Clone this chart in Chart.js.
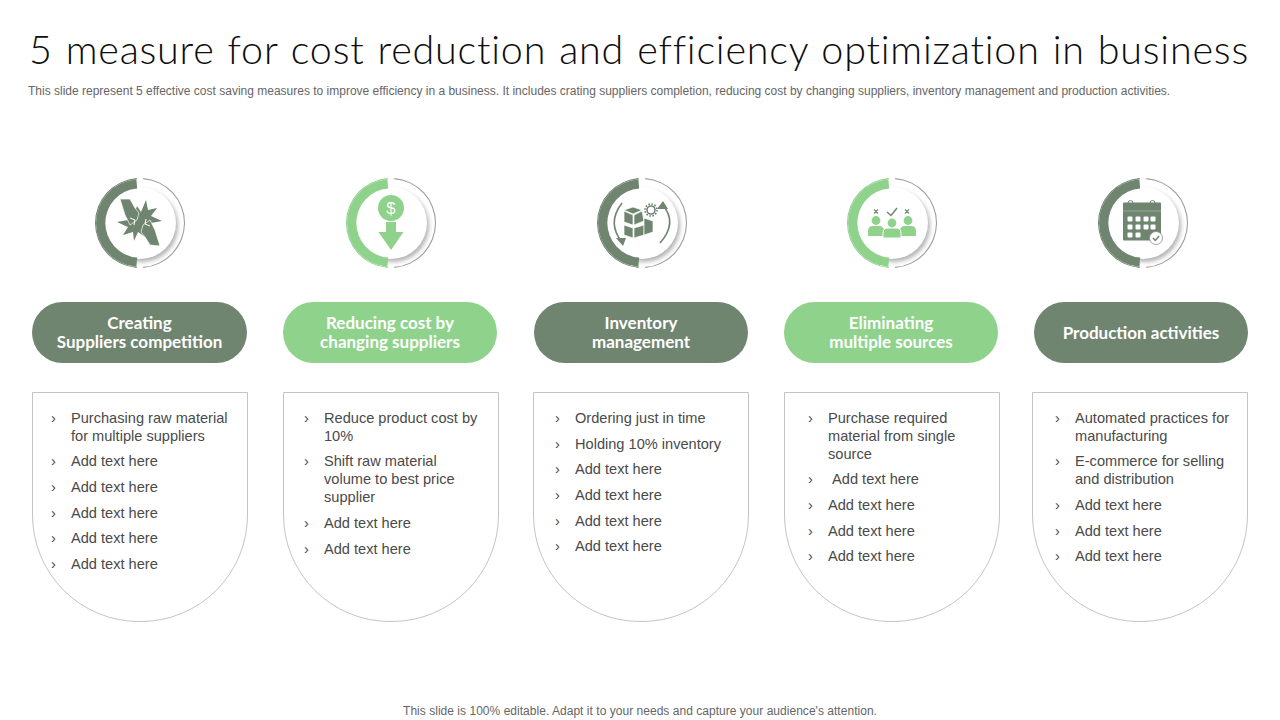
<!DOCTYPE html>
<html>
<head>
<meta charset="utf-8">
<title>Cost reduction measures</title>
<script src="https://cdn.jsdelivr.net/npm/chart.js@4"></script>
<style>
  html, body { margin: 0; padding: 0; background: #fff; }
  #slide { position: relative; width: 1280px; height: 720px; overflow: hidden; font-family: "Liberation Sans", Arial, sans-serif; }
  #title { position: absolute; left: 29px; top: 25px; white-space: nowrap; font: 300 39.5px Lato, sans-serif; color: #0d0d0d; letter-spacing: .78px; word-spacing: 1.5px; }
  #subtitle { position: absolute; left: 28px; top: 84px; white-space: nowrap; font-size: 12px; color: #666; }
  #footer { position: absolute; left: 0; width: 1280px; top: 704px; text-align: center; font-size: 12px; color: #666; letter-spacing: .03px; }
  .disc { position: absolute; width: 72px; height: 72px; border-radius: 50%; background: #fff; box-shadow: 2px 3px 4px rgba(0,0,0,.3); }
  .ring { position: absolute; width: 100px; height: 100px; }
  .icon { position: absolute; width: 90px; height: 90px; overflow: visible; }
  .pill { position: absolute; top: 302px; height: 61px; box-sizing: border-box; border-radius: 31px; display: flex; align-items: center; justify-content: center; text-align: center; color: #fff; font: 700 17px/19px Lato, sans-serif; white-space: pre-line; }
  .card { position: absolute; top: 392px; width: 214px; height: 228px; border: 1px solid #c4c4c4; border-radius: 0 0 107px 107px / 0 0 107px 107px; box-sizing: content-box; }
  .card ul { list-style: none; margin: 0; padding: 0; color: #4a4a4a; font-size: 14.6px; line-height: 18px; }
  .card li { position: relative; margin-bottom: 7.6px; white-space: pre-wrap; }
  .card li::before { content: "\203A"; position: absolute; margin-left: -20px; }
</style>
</head>
<body>
<div id="slide">
  <div id="title">5 measure for cost reduction and efficiency optimization in business</div>
  <div id="subtitle">This slide represent 5 effective cost saving measures to improve efficiency in a business. It includes crating suppliers completion, reducing cost by changing suppliers, inventory management and production activities.</div>
  <div id="footer">This slide is 100% editable. Adapt it to your needs and capture your audience's attention.</div>
</div>

<script>
// Данные
const categories = ['Creating\nSuppliers competition', 'Reducing cost by\nchanging suppliers', 'Inventory\nmanagement', 'Eliminating\nmultiple sources', 'Production activities'];
const ringShares = [50, 50];
const bullets1 = ['Purchasing raw material\nfor multiple suppliers', 'Add text here', 'Add text here', 'Add text here', 'Add text here', 'Add text here'];
const bullets2 = ['Reduce product cost by\n10%', 'Shift raw material\nvolume to best price\nsupplier', 'Add text here', 'Add text here'];
const bullets3 = ['Ordering just in time', 'Holding 10% inventory', 'Add text here', 'Add text here', 'Add text here', 'Add text here'];
const bullets4 = ['Purchase required\nmaterial from single\nsource', ' Add text here', 'Add text here', 'Add text here', 'Add text here'];
const bullets5 = ['Automated practices for\nmanufacturing', 'E-commerce for selling\nand distribution', 'Add text here', 'Add text here', 'Add text here'];
const bulletLists = [bullets1, bullets2, bullets3, bullets4, bullets5];

// Раскладка
const DARK = '#6f8570';
const GREEN = '#8fd28c';
const colors = [DARK, GREEN, DARK, GREEN, DARK];
const ringX = [140, 390.5, 641.5, 891.5, 1142.5];
const ringY = 223;
const pillLeft = [32, 283, 534, 784, 1034];
const pillWidth = [215, 214, 214, 214, 214];
const cardLeft = [32, 283, 533, 784, 1032];
const textInset = [38, 40, 41, 43, 42];
const textTop = [15.85, 15.85, 16.2, 15.85, 15.85];

// Иконки, координаты от центра кольца
const icons = [
  `<polygon fill="${DARK}" points="6,-23 8,-13 17,-15 11,-7 22,-2 11,0 15,9 5,6 5,14 -2,9 -6,18 -7,9 -17,12 -12,4 -23,-1 -12,-3 -14,-11 -6,-8 -3,-17 1,-11"/>
   <polygon fill="${DARK}" stroke="#fff" stroke-width=".7" points="-20,-24 -10,-24 -5,-15 -1,-10 -3,-3 -10,2 -15,-8"/>
   <polygon fill="${DARK}" stroke="#fff" stroke-width=".7" points="20,23 10,22 5,14 1,9 3,2 10,-3 15,7"/>
   <path d="M-10,-5 l5,2 l-1,5 M10,3 l-5,-2 l1,-5" fill="none" stroke="#fff" stroke-width="1"/>`,
  `<circle cx="0" cy="-15" r="13" fill="${GREEN}"/>
   <text x="0" y="-9" text-anchor="middle" font-family="Liberation Sans" font-size="17" fill="#fff">$</text>
   <polygon fill="${GREEN}" points="-5,-1 5,-1 5,9 12.5,9 0,27 -12.5,9 -5,9"/>`,
  `<g fill="none" stroke="${DARK}" stroke-width="1.6"><path d="M-20,-20 Q-35.500,0 -20,19"/><path d="M18,20 Q36,0 20.700,-18"/><circle cx="9" cy="-13" r="4"/><circle cx="9" cy="-13" r="6" stroke-dasharray="1.6 1.5" stroke-width="1.6"/></g>
   <polygon fill="${DARK}" points="-19,23 -26,15 -16,15"/><polygon fill="${DARK}" points="21,-22 15,-14 26,-14"/>
   <g fill="${DARK}" stroke="#fff" stroke-width=".7">
    <polygon points="-18,-13 -9,-16 0,-13 -9,-9"/><polygon points="-18,-12 -9,-8 -9,2 -18,-1"/><polygon points="-8,-8 0,-12 2,-2 -8,2"/>
    <polygon points="-18,2 -9,5 -9,15 -18,12"/><polygon points="-8,5 2,2 2,12 -8,15"/>
    <polygon points="2,-5 11,-2 11,9 2,12"/>
   </g>`,
  `<g fill="${GREEN}">
    <circle cx="-16" cy="-2.5" r="4.4"/><path d="M-24,13 v-5 q0,-5 5,-5 h6 q5,0 5,5 v5 z"/>
    <circle cx="16" cy="-2.5" r="4.4"/><path d="M8,13 v-5 q0,-5 5,-5 h6 q5,0 5,5 v5 z"/>
    <path d="M-9,15 v-5 q0,-5 5,-5 h8 q5,0 5,5 v5 z" stroke="#fff" stroke-width="1"/>
    <circle cx="0" cy="0" r="4.4"/>
   </g>
   <g fill="none" stroke="${DARK}" stroke-width="1.1"><path d="M-18,-13.5 l4,4 M-14,-13.5 l-4,4 M13,-13.5 l4,4 M17,-13.5 l-4,4"/></g>
   <path d="M-5,-11 l4,3.500 l6,-7.500" fill="none" stroke="${DARK}" stroke-width="1.5"/>`,
  `<rect x="-20" y="-20.500" width="38" height="38" rx="1" fill="${DARK}"/>
   <rect x="-20" y="-12.500" width="38" height="1" fill="#fff" opacity=".3"/>
   <g fill="none" stroke="${DARK}" stroke-width="1"><circle cx="-12.500" cy="-20" r="2.500"/><circle cx="9.500" cy="-20" r="2.500"/></g>
   ${[[-13,-4],[-5,-4],[3,-4],[10,-4],[-13,4],[-5,4],[3,4],[10,4],[-13,12],[-5,12]].map(c => `<rect x="${c[0]-2.500}" y="${c[1]-2.500}" width="5" height="5" rx="1" fill="#fff"/>`).join('')}
   <circle cx="13" cy="15" r="6.500" fill="#fff" stroke="#8a8a8a" stroke-width=".8"/>
   <path d="M10,15 l2.200,2.400 l4,-4.500" fill="none" stroke="${DARK}" stroke-width="1.500"/>`
];

const slide = document.getElementById('slide');

function addEl(cls, tag) {
  const el = document.createElement(tag || 'div');
  el.className = cls;
  slide.appendChild(el);
  return el;
}

categories.forEach((name, i) => {
  const cx = ringX[i];

  // Белый диск с тенью под кольцом
  const disc = addEl('disc');
  disc.style.left = (cx - 36) + 'px';
  disc.style.top = (ringY - 36) + 'px';

  // Кольцо: толстая левая половина и тонкая правая
  const box = addEl('ring');
  box.style.left = (cx - 50) + 'px';
  box.style.top = (ringY - 50) + 'px';
  const canvas = document.createElement('canvas');
  canvas.width = 100;
  canvas.height = 100;
  canvas.style.width = '100px';
  canvas.style.height = '100px';
  box.appendChild(canvas);
  new Chart(canvas.getContext('2d'), {
    type: 'doughnut',
    data: {
      labels: ['filled', 'outline'],
      datasets: [
        { data: ringShares, backgroundColor: [colors[i], '#9a9a9a'], borderWidth: 0, weight: 1, spacing: 4 },
        { data: ringShares, backgroundColor: [colors[i], 'rgba(0,0,0,0)'], borderWidth: 0, weight: 9, spacing: 4 }
      ]
    },
    options: {
      responsive: false,
      animation: false,
      rotation: 180,
      radius: 43,
      cutout: '76%',
      plugins: { legend: { display: false }, tooltip: { enabled: false } }
    }
  });

  // Иконка
  const svg = document.createElementNS('http://www.w3.org/2000/svg', 'svg');
  svg.setAttribute('class', 'icon');
  svg.setAttribute('viewBox', '-45 -45 90 90');
  svg.style.left = (cx - 45) + 'px';
  svg.style.top = (ringY - 45) + 'px';
  svg.innerHTML = icons[i];
  slide.appendChild(svg);

  // Плашка с названием
  const pill = addEl('pill');
  pill.style.left = pillLeft[i] + 'px';
  pill.style.width = pillWidth[i] + 'px';
  pill.style.background = colors[i];
  if (name.includes('\n')) pill.style.paddingBottom = '2px';
  pill.textContent = name;

  // Карточка со списком
  const card = addEl('card');
  card.style.left = cardLeft[i] + 'px';
  const ul = document.createElement('ul');
  ul.style.paddingLeft = textInset[i] + 'px';
  ul.style.paddingTop = textTop[i] + 'px';
  bulletLists[i].forEach(t => {
    const li = document.createElement('li');
    li.textContent = t;
    ul.appendChild(li);
  });
  card.appendChild(ul);
});
</script>
</body>
</html>
